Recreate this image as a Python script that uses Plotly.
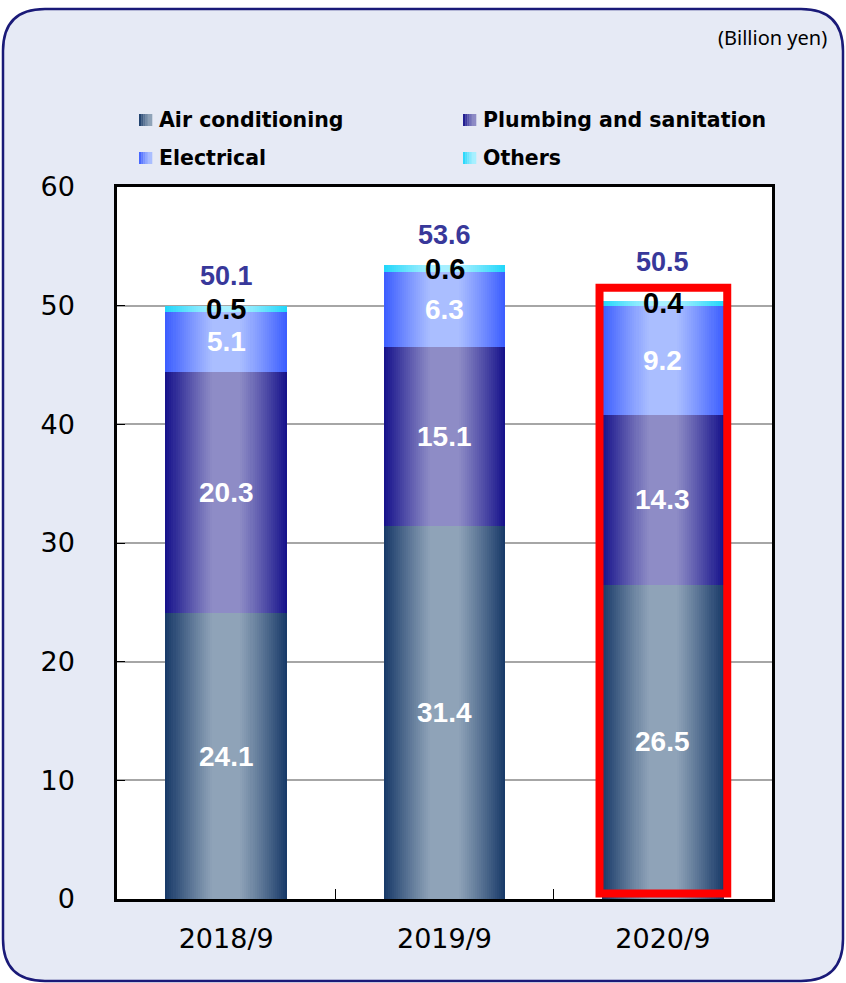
import numpy as np
import plotly.graph_objects as go

# ---- data (billion yen) ----
categories = ["2018/9", "2019/9", "2020/9"]
air_conditioning = [24.1, 31.4, 26.5]
plumbing_sanitation = [20.3, 15.1, 14.3]
electrical = [5.1, 6.3, 9.2]
others = [0.5, 0.6, 0.4]
totals = [50.1, 53.6, 50.5]
y_ticks = [0, 10, 20, 30, 40, 50, 60]

series = [
    ("Air conditioning", air_conditioning),
    ("Plumbing and sanitation", plumbing_sanitation),
    ("Electrical", electrical),
    ("Others", others),
]

# edge / centre colours of the cylinder-like horizontal shading
shading = {
    "Air conditioning": ("#163867", "#8FA3B8"),
    "Plumbing and sanitation": ("#14108A", "#8E8CC6"),
    "Electrical": ("#3A5CFF", "#AABEFF"),
    "Others": ("#1FD6FA", "#A8F0FF"),
}
label_colors = {
    "Air conditioning": "white",
    "Plumbing and sanitation": "white",
    "Electrical": "white",
    "Others": "black",
}

W, H = 846, 983
ML, MR, MT, MB = 117, 74, 187, 84
PW, PH = W - ML - MR, H - MT - MB

BAR_W = 0.557
STRIPS = 60


def hex2rgb(h):
    h = h.lstrip("#")
    return np.array([int(h[i:i + 2], 16) for i in (0, 2, 4)], dtype=float)


def shade(edge, centre, t):
    d = abs(t - 0.5) * 2
    w = np.clip((d - 0.22) / 0.78, 0, 1) ** 1.1
    c = hex2rgb(centre) * (1 - w) + hex2rgb(edge) * w
    return "rgb(%d,%d,%d)" % tuple(np.round(c))


fig = go.Figure()

bases = np.zeros(len(categories))
label_x, label_y, label_txt, label_col = [], [], [], []
for name, vals in series:
    vals = np.array(vals, dtype=float)
    edge, centre = shading[name]
    sw = BAR_W / STRIPS
    for i in range(STRIPS):
        t = (i + 0.5) / STRIPS
        fig.add_trace(go.Bar(
            x=categories, y=vals, base=bases.copy(),
            width=sw * (1.2 if i < STRIPS - 1 else 1.0),
            offset=-BAR_W / 2 + i * sw,
            marker=dict(color=shade(edge, centre, t), line=dict(width=0)),
            showlegend=False, hoverinfo="skip",
        ))
    for k, c in enumerate(categories):
        label_x.append(c)
        label_y.append(bases[k] + vals[k] / 2)
        label_txt.append(f"{vals[k]:.1f}")
        label_col.append(label_colors[name])
    bases = bases + vals

annotations = []
for x, y, txt, col in zip(label_x, label_y, label_txt, label_col):
    annotations.append(dict(
        x=x, y=y, xref="x", yref="y", text=f"<b>{txt}</b>", showarrow=False,
        font=dict(family="Liberation Sans, Arial", size=29 if col == "black" else 28, color=col),
    ))

# totals above each stack
for k, c in enumerate(categories):
    annotations.append(dict(
        x=c, y=bases[k], xref="x", yref="y", text=f"<b>{totals[k]:.1f}</b>",
        showarrow=False, yshift=39 if k == 2 else 30,
        font=dict(family="Liberation Sans, Arial", size=27, color="#38389A"),
    ))

# unit note
annotations.append(dict(
    x=(829 - ML) / PW, y=(MT + PH - 38) / PH, xref="paper", yref="paper",
    xanchor="right", yanchor="middle", text="(Billion yen)", showarrow=False,
    font=dict(family="Noto Sans", size=20, color="black"),
))


def px_x(p):
    return (p - ML) / PW


def px_y(p):
    return (MT + PH - p) / PH


shapes = []

# rounded panel behind the whole chart
x0, x1, y0, y1, r = 3, 843, 9, 981, 42
path = (
    f"M{px_x(x0 + r)},{px_y(y0)} L{px_x(x1 - r)},{px_y(y0)} "
    f"Q{px_x(x1)},{px_y(y0)} {px_x(x1)},{px_y(y0 + r)} "
    f"L{px_x(x1)},{px_y(y1 - r)} Q{px_x(x1)},{px_y(y1)} {px_x(x1 - r)},{px_y(y1)} "
    f"L{px_x(x0 + r)},{px_y(y1)} Q{px_x(x0)},{px_y(y1)} {px_x(x0)},{px_y(y1 - r)} "
    f"L{px_x(x0)},{px_y(y0 + r)} Q{px_x(x0)},{px_y(y0)} {px_x(x0 + r)},{px_y(y0)} Z"
)
shapes.append(dict(type="path", xref="paper", yref="paper", path=path,
                   fillcolor="#E6EAF5", line=dict(color="#1A1A78", width=2.5), layer="below"))

# white plotting area
shapes.append(dict(type="rect", xref="paper", yref="paper", x0=0, x1=1, y0=0, y1=1,
                   fillcolor="white", line=dict(width=0), layer="below"))

# highlight frame around the latest period
shapes.append(dict(type="rect", xref="x", yref="y", x0=2 - 0.29, x1=2 + 0.295,
                   y0=0.46, y1=51.5, line=dict(color="#FF0000", width=8),
                   fillcolor="rgba(0,0,0,0)", layer="above"))

# legend: gradient swatches + labels
legend_items = [
    ("Air conditioning", 139, 120),
    ("Plumbing and sanitation", 463, 120),
    ("Electrical", 139, 158),
    ("Others", 463, 158),
]
for name, lx, ly in legend_items:
    edge, centre = shading[name]
    n = 6
    sq_w, sq_h = 13, 12
    for j in range(n):
        t = 0.5 * (j + 0.5) / n
        shapes.append(dict(
            type="rect", xref="paper", yref="paper",
            x0=px_x(lx + j * sq_w / n), x1=px_x(lx + (j + 1) * sq_w / n + 0.3),
            y0=px_y(ly + sq_h / 2), y1=px_y(ly - sq_h / 2),
            fillcolor=shade(edge, centre, t), line=dict(width=0), layer="above",
        ))
    annotations.append(dict(
        x=px_x(lx + 18), y=px_y(ly), xref="paper", yref="paper",
        xanchor="left", yanchor="middle", text=f"<b>{name}</b>", showarrow=False,
        font=dict(family="DejaVu Sans", size=20.5, color="black"),
    ))

fig.update_layout(
    width=W, height=H,
    margin=dict(l=ML, r=MR, t=MT, b=MB, pad=0),
    paper_bgcolor="white", plot_bgcolor="rgba(0,0,0,0)",
    barmode="overlay", bargap=0,
    showlegend=False,
    annotations=annotations, shapes=shapes,
)
fig.update_xaxes(
    type="category", range=[-0.5, 2.5],
    showline=True, linecolor="black", linewidth=2.5, mirror=True,
    ticks="inside", tickson="boundaries", ticklen=10, tickcolor="black", tickwidth=1,
    showgrid=False, ticklabelstandoff=14,
    tickfont=dict(family="DejaVu Sans", size=27, color="black"),
)
fig.update_yaxes(
    range=[0, 60], tickvals=y_ticks,
    showline=True, linecolor="black", linewidth=2.5, mirror=True,
    ticks="inside", ticklen=8, tickcolor="black", tickwidth=1,
    showgrid=True, gridcolor="#A6A6A6", gridwidth=1.5,
    zeroline=False, ticklabelstandoff=34,
    tickfont=dict(family="DejaVu Sans", size=27, color="black"),
)

fig.write_html("out.html")
